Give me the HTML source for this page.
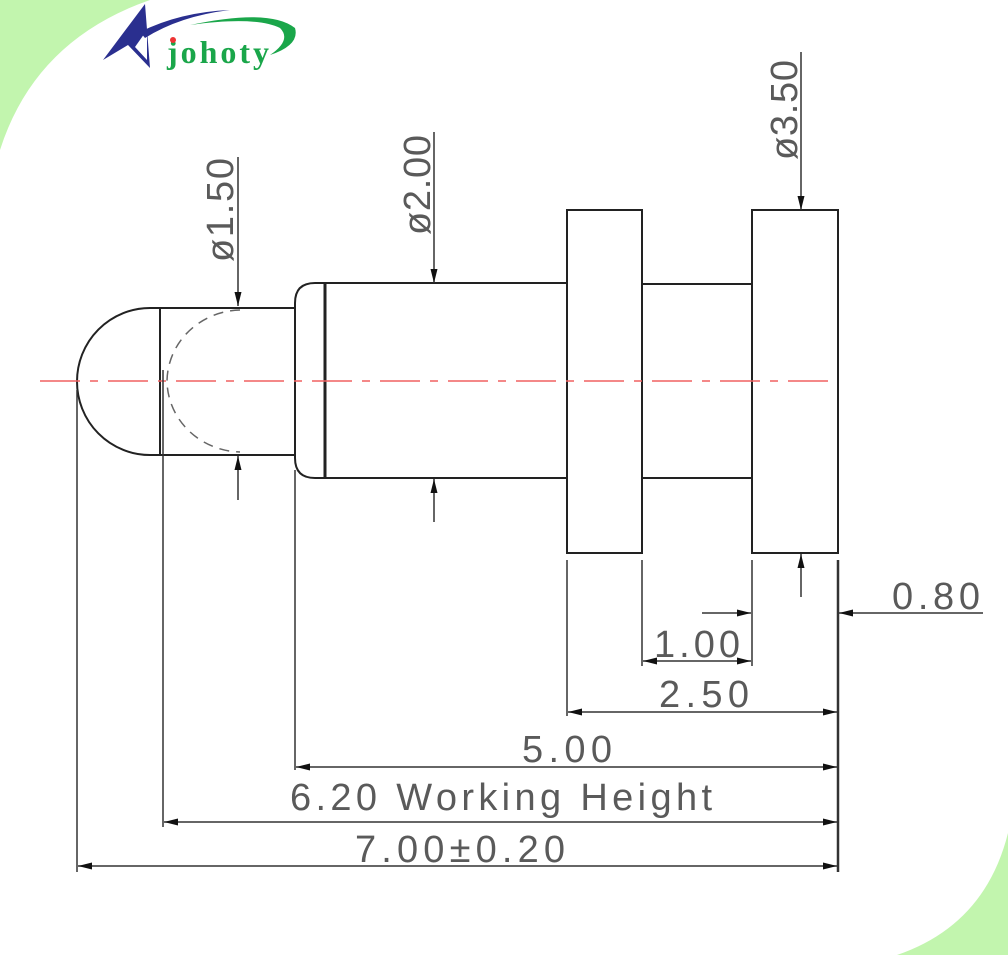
<!DOCTYPE html>
<html><head><meta charset="utf-8"><style>
html,body{margin:0;padding:0;background:#fff}
svg{display:block}
text{font-family:"Liberation Sans",sans-serif;fill:#5a5a5a}
</style></head><body>
<svg width="1008" height="955" viewBox="0 0 1008 955" xmlns="http://www.w3.org/2000/svg">
<defs>
<marker id="a" viewBox="0 0 14 7" refX="14" refY="3.5" markerWidth="14" markerHeight="7" markerUnits="userSpaceOnUse" orient="auto-start-reverse"><path d="M0,0 L14,3.5 L0,7 Z" fill="#111"/></marker>
</defs>
<rect width="1008" height="955" fill="#fff"/>
<path d="M0,0 L150,0 Q35,40 0,150 Z" fill="#c2f5ae"/>
<path d="M1008,955 L897,955 Q985,925 1008,833 Z" fill="#c2f5ae"/>
<path d="M103,60 L145,4 L150,68 L128,45 Z" fill="#2a2f8f"/>
<path d="M135,47 L147,30 L147,60 Z" fill="#fff"/>
<path d="M140,32 Q180,12 230,10 Q180,16 145,38 Z" fill="#2a2f8f"/>
<path d="M190,25 Q270,8 295,28 Q300,45 270,55 Q292,40 280,28 Q255,16 190,25 Z" fill="#1aa64a"/>
<text x="167" y="63" style="font-family:'Liberation Serif',serif;font-size:32px;font-weight:bold;fill:#1aa64a" textLength="102">johoty</text>
<circle cx="173" cy="40" r="3" fill="#e33"/>
<g stroke="#222" stroke-width="2" fill="none">
<path d="M160,308 L150,308 A73,73.5 0 0 0 150,455 L160,455"/>
<line x1="160" y1="308" x2="160" y2="455"/>
<path d="M160,308 L295,308 M160,455 L295,455"/>
<path d="M240,310 A75,72 0 0 0 167,381 A75,72 0 0 0 240,452" stroke="#666" stroke-width="1.5" stroke-dasharray="10,7"/>
<path d="M328,283 L315,283 Q295,283 295,303 L295,458 Q295,478 315,478 L328,478"/>
<line x1="325" y1="283" x2="325" y2="478" stroke-width="3"/>
<path d="M325,283 L567,283 M325,478 L567,478"/>
<rect x="567" y="210" width="75" height="343"/>
<path d="M642,284 L752,284 M642,478 L752,478"/>
<rect x="752" y="210" width="86" height="343"/>
</g>
<line x1="40" y1="381" x2="838" y2="381" stroke="#f06060" stroke-width="1.5" stroke-dasharray="40,10,8,10"/>
<g stroke="#333" stroke-width="1.5" fill="none">
<line x1="77" y1="390" x2="77" y2="872"/>
<line x1="163" y1="370" x2="163" y2="827"/>
<line x1="295" y1="470" x2="295" y2="770"/>
<line x1="567" y1="560" x2="567" y2="716"/>
<line x1="642" y1="560" x2="642" y2="666"/>
<line x1="752" y1="560" x2="752" y2="666"/>
<line x1="838" y1="560" x2="838" y2="872" stroke-width="2.5"/>
<line x1="238" y1="157" x2="238" y2="306" marker-end="url(#a)"/>
<line x1="238" y1="500" x2="238" y2="456" marker-end="url(#a)"/>
<line x1="434" y1="132" x2="434" y2="283" marker-end="url(#a)"/>
<line x1="434" y1="522" x2="434" y2="479" marker-end="url(#a)"/>
<line x1="801" y1="52" x2="801" y2="210" marker-end="url(#a)"/>
<line x1="801" y1="597" x2="801" y2="554" marker-end="url(#a)"/>
<line x1="702" y1="613" x2="751" y2="613" marker-end="url(#a)"/>
<line x1="983" y1="613" x2="839" y2="613" marker-end="url(#a)"/>
<line x1="643" y1="661" x2="751" y2="661" marker-start="url(#a)" marker-end="url(#a)"/>
<line x1="568" y1="712" x2="837" y2="712" marker-start="url(#a)" marker-end="url(#a)"/>
<line x1="296" y1="767" x2="837" y2="767" marker-start="url(#a)" marker-end="url(#a)"/>
<line x1="164" y1="822" x2="837" y2="822" marker-start="url(#a)" marker-end="url(#a)"/>
<line x1="78" y1="866" x2="837" y2="866" marker-start="url(#a)" marker-end="url(#a)"/>
</g>
<g font-size="38">
<text transform="translate(233,262) rotate(-90)" textLength="104">ø1.50</text>
<text transform="translate(430,235) rotate(-90)" textLength="100">ø2.00</text>
<text transform="translate(797,160) rotate(-90)" textLength="100">ø3.50</text>
<text x="892" y="609" textLength="88">0.80</text>
<text x="654" y="657" textLength="86">1.00</text>
<text x="659" y="707" textLength="90">2.50</text>
<text x="522" y="762" textLength="90">5.00</text>
<text x="290" y="810" textLength="422">6.20 Working Height</text>
<text x="355" y="862" textLength="210">7.00±0.20</text>
</g>
</svg>
</body></html>
